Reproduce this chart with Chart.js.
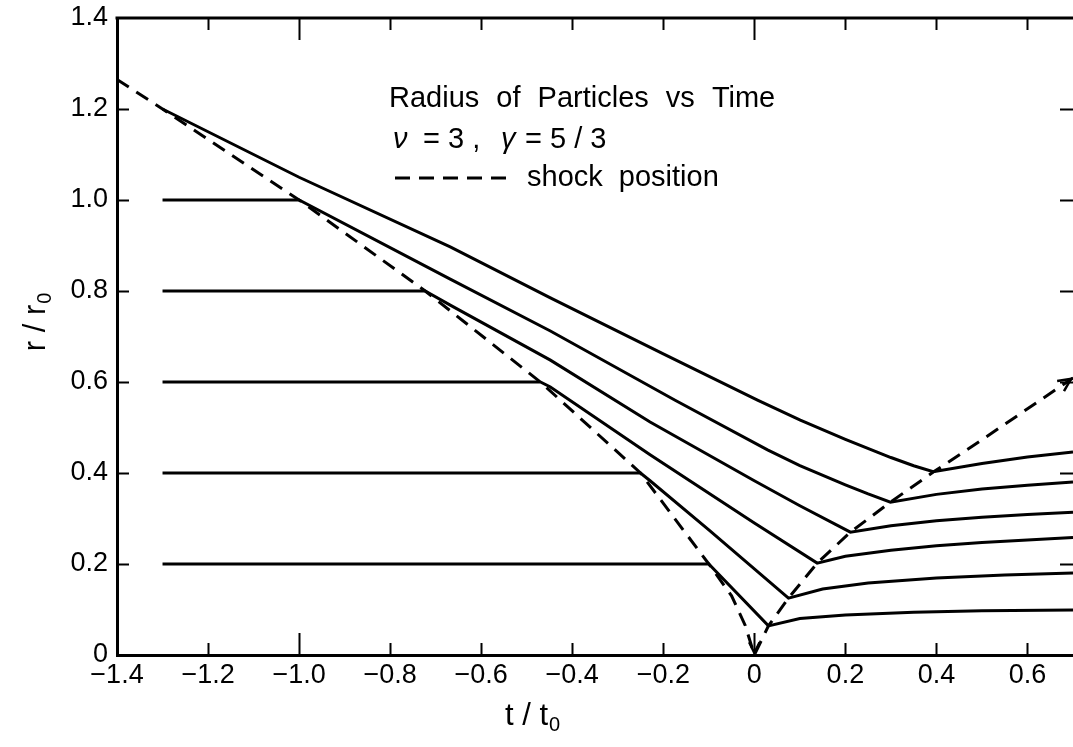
<!DOCTYPE html>
<html>
<head>
<meta charset="utf-8">
<script src="https://cdn.jsdelivr.net/npm/chart.js@4.4.1/dist/chart.umd.min.js"></script>
<style>
  html, body { margin: 0; padding: 0; background: #fff; }
  #wrap { width: 1073px; height: 747px; }
</style>
</head>
<body>
<div id="wrap"><canvas id="chart" width="1073" height="747"></canvas></div>
<script>
// Radius of particles vs time, converging shock (nu = 3, gamma = 5/3)

// tick values and labels
const xTickValues = [-1.4, -1.2, -1.0, -0.8, -0.6, -0.4, -0.2, 0, 0.2, 0.4, 0.6];
const xTickLabels = ['\u22121.4', '\u22121.2', '\u22121.0', '\u22120.8', '\u22120.6', '\u22120.4', '\u22120.2', '0', '0.2', '0.4', '0.6'];
const yTickValues = [0, 0.2, 0.4, 0.6, 0.8, 1.0, 1.2, 1.4];
const yTickLabels = ['0', '0.2', '0.4', '0.6', '0.8', '1.0', '1.2', '1.4'];

// shock position (incoming, then reflected)
const shockT = [-1.4, -1.3, -1.0, -0.723, -0.47, -0.25, -0.1, -0.05, -0.02, 0, 0.031, 0.075, 0.138, 0.211, 0.299, 0.393, 0.5, 0.7];
const shockR = [1.265, 1.2, 1.0, 0.8, 0.6, 0.4, 0.2, 0.13, 0.065, 0, 0.064, 0.125, 0.202, 0.270, 0.336, 0.402, 0.473, 0.609];

// particle paths, named by initial radius
const p12T = [-1.3, -1.0, -0.668, -0.448, -0.2, 0.007, 0.101, 0.2, 0.3, 0.35, 0.393, 0.5, 0.6, 0.7];
const p12R = [1.2, 1.05, 0.897, 0.785, 0.662, 0.560, 0.516, 0.474, 0.434, 0.416, 0.403, 0.421, 0.435, 0.446];

const p10T = [-1.3, -1.0, -0.668, -0.448, -0.174, 0.029, 0.1, 0.2, 0.25, 0.299, 0.4, 0.5, 0.6, 0.7];
const p10R = [1.0, 1.0, 0.826, 0.712, 0.560, 0.451, 0.416, 0.374, 0.354, 0.336, 0.353, 0.365, 0.373, 0.380];

const p08T = [-1.3, -0.723, -0.668, -0.448, -0.229, 0, 0.1, 0.211, 0.3, 0.4, 0.5, 0.6, 0.7];
const p08R = [0.8, 0.8, 0.769, 0.648, 0.512, 0.383, 0.328, 0.270, 0.284, 0.295, 0.303, 0.309, 0.314];

const p06T = [-1.3, -0.47, -0.448, -0.229, 0, 0.138, 0.2, 0.3, 0.4, 0.5, 0.6, 0.7];
const p06R = [0.6, 0.6, 0.589, 0.440, 0.290, 0.202, 0.217, 0.230, 0.240, 0.247, 0.253, 0.258];

const p04T = [-1.3, -0.25, -0.229, -0.1, 0.075, 0.15, 0.25, 0.4, 0.55, 0.7];
const p04R = [0.4, 0.4, 0.383, 0.275, 0.125, 0.145, 0.158, 0.169, 0.176, 0.180];

const p02T = [-1.3, -0.1, 0.031, 0.1, 0.2, 0.35, 0.5, 0.7];
const p02R = [0.2, 0.2, 0.064, 0.080, 0.088, 0.094, 0.097, 0.099];

function pts(ts, rs) {
  return ts.map((t, i) => ({ x: t, y: rs[i] }));
}

const FONT = '"Liberation Sans", Arial, sans-serif';

function particle(ts, rs) {
  return {
    data: pts(ts, rs),
    borderColor: '#000',
    borderWidth: 3,
    pointRadius: 0,
    tension: 0,
    fill: false
  };
}

// small open arrowhead at the end of a path
function arrowHead(ctx, px, py, ang, size) {
  ctx.beginPath();
  ctx.moveTo(px - size * Math.cos(ang - 0.45), py - size * Math.sin(ang - 0.45));
  ctx.lineTo(px, py);
  ctx.lineTo(px - size * Math.cos(ang + 0.45), py - size * Math.sin(ang + 0.45));
  ctx.stroke();
}

// frame, inward ticks and the text block
const decorPlugin = {
  id: 'decor',
  afterDraw(chart) {
    const { ctx, chartArea: { left, right, top, bottom }, scales: { x, y } } = chart;
    ctx.save();
    ctx.strokeStyle = '#000';
    ctx.lineCap = 'butt';

    // top frame line
    ctx.lineWidth = 3;
    ctx.beginPath();
    ctx.moveTo(left - 1.5, top);
    ctx.lineTo(right, top);
    ctx.stroke();

    // x ticks, bottom and top, pointing inward
    ctx.lineWidth = 2;
    xTickValues.forEach(v => {
      if (v === -1.4) return;
      const px = Math.round(x.getPixelForValue(v)) + 0.5;
      const len = (Math.abs(v + 1.0) < 1e-9 || v === 0) ? 22 : 12;
      ctx.beginPath();
      ctx.moveTo(px, bottom);
      ctx.lineTo(px, bottom - len);
      ctx.moveTo(px, top);
      ctx.lineTo(px, top + len);
      ctx.stroke();
    });

    // y ticks, left and right
    yTickValues.forEach(v => {
      if (v === 0 || v === 1.4) return;
      const py = Math.round(y.getPixelForValue(v)) + 0.5;
      ctx.beginPath();
      ctx.moveTo(left, py);
      ctx.lineTo(left + 12, py);
      ctx.moveTo(right - 13, py);
      ctx.lineTo(right, py);
      ctx.stroke();
    });

    // arrowheads on the shock path
    ctx.lineWidth = 2.5;
    const n = shockT.length;
    const ex = x.getPixelForValue(shockT[n - 1]), ey = y.getPixelForValue(shockR[n - 1]);
    const bx = x.getPixelForValue(shockT[n - 2]), by = y.getPixelForValue(shockR[n - 2]);
    arrowHead(ctx, ex - 2, ey + 1, Math.atan2(ey - by, ex - bx), 14);
    const zx = x.getPixelForValue(0), zy = y.getPixelForValue(0);
    arrowHead(ctx, zx, zy - 2, Math.PI / 2, 12);

    // annotation text
    ctx.fillStyle = '#000';
    ctx.textBaseline = 'middle';
    ctx.textAlign = 'left';
    ctx.font = '29px ' + FONT;
    ctx.wordSpacing = '9px';
    ctx.fillText('Radius of Particles vs Time', 389, 99);
    ctx.wordSpacing = '0px';

    ctx.font = 'italic 29px ' + FONT;
    ctx.fillText('\u03bd', 393, 140);
    ctx.fillText('\u03b3', 501, 140);
    ctx.font = '29px ' + FONT;
    ctx.fillText('= 3 ,', 423, 140);
    ctx.fillText('= 5 / 3', 525, 140);

    ctx.lineWidth = 3;
    ctx.setLineDash([15, 9]);
    ctx.beginPath();
    ctx.moveTo(395, 178);
    ctx.lineTo(512, 178);
    ctx.stroke();
    ctx.setLineDash([]);
    ctx.wordSpacing = '8px';
    ctx.fillText('shock position', 527, 178);
    ctx.wordSpacing = '0px';

    // axis titles
    ctx.font = '31px ' + FONT;
    ctx.textAlign = 'left';
    const tw = ctx.measureText('t / t').width;
    ctx.fillText('t / t', 505, 716);
    ctx.font = '20px ' + FONT;
    ctx.fillText('0', 505 + tw + 1, 725);

    ctx.translate(36, 322);
    ctx.rotate(-Math.PI / 2);
    ctx.font = '31px ' + FONT;
    const rw = ctx.measureText('r / r').width;
    ctx.fillText('r / r', -rw / 2 - 6, 0);
    ctx.font = '20px ' + FONT;
    ctx.fillText('0', rw / 2 - 5, 9);

    ctx.restore();
  }
};

new Chart(document.getElementById('chart'), {
  type: 'line',
  data: {
    datasets: [
      {
        data: pts(shockT, shockR),
        borderColor: '#000',
        borderWidth: 3,
        borderDash: [14, 9],
        pointRadius: 0,
        tension: 0,
        fill: false
      },
      particle(p12T, p12R),
      particle(p10T, p10R),
      particle(p08T, p08R),
      particle(p06T, p06R),
      particle(p04T, p04R),
      particle(p02T, p02R)
    ]
  },
  options: {
    responsive: false,
    animation: false,
    layout: { padding: { top: 18, right: 0, left: 0, bottom: 0 } },
    plugins: {
      legend: { display: false },
      tooltip: { enabled: false }
    },
    scales: {
      x: {
        type: 'linear',
        min: -1.4,
        max: 0.7,
        afterBuildTicks: s => { s.ticks = xTickValues.map(v => ({ value: v })); },
        afterFit: s => { s.height = 92; s.paddingLeft = 0; s.paddingRight = 0; },
        grid: { drawOnChartArea: false, drawTicks: false },
        border: { display: true, color: '#000', width: 3 },
        ticks: {
          color: '#000',
          padding: 4,
          maxRotation: 0,
          autoSkip: false,
          font: { family: FONT, size: 27 },
          callback: (v, i) => xTickLabels[i]
        }
      },
      y: {
        type: 'linear',
        min: 0,
        max: 1.4,
        afterBuildTicks: s => { s.ticks = yTickValues.map(v => ({ value: v })); },
        afterFit: s => { s.width = 117; s.paddingTop = 0; s.paddingBottom = 0; },
        grid: { drawOnChartArea: false, drawTicks: false },
        border: { display: true, color: '#000', width: 3 },
        ticks: {
          color: '#000',
          padding: 9,
          autoSkip: false,
          font: { family: FONT, size: 27 },
          callback: (v, i) => yTickLabels[i]
        }
      }
    }
  },
  plugins: [decorPlugin]
});
</script>
</body>
</html>
